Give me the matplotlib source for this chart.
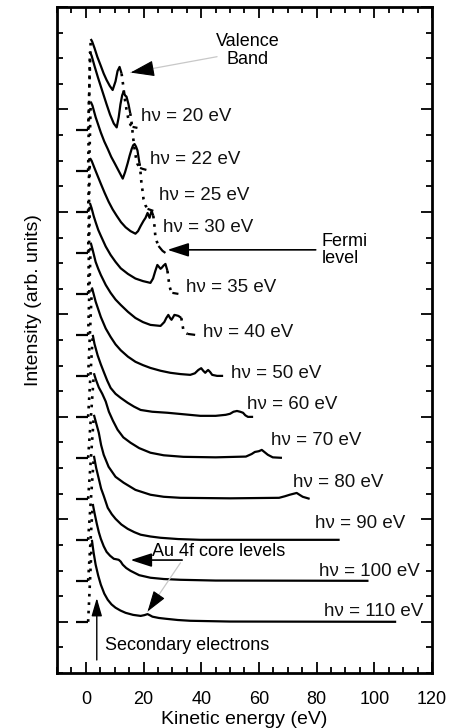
import matplotlib
matplotlib.use("Agg")
import matplotlib.pyplot as plt
from matplotlib.ticker import MultipleLocator

plt.rcParams['font.family'] = ['Liberation Sans', 'DejaVu Sans']

photon_energies = [20, 22, 25, 30, 35, 40, 50, 60, 70, 80, 90, 100, 110]
offsets = [21.2, 19.6, 18.0, 16.4, 14.8, 13.2, 11.6, 10.0, 8.4, 6.8, 5.2, 3.6, 2.0]

# kinetic energy (eV) and intensity above each spectrum's own offset
ke_20 = [-3.4, 0.8, 1.7, 2.2, 3.0, 4.0, 5.2, 6.2, 7.2, 8.3, 9.3, 10.3, 11.0, 11.7, 12.4,
         13.0, 13.4, 14.1, 14.8, 15.5, 16.2, 17.9]
in_20 = [0, 0, 3.55, 3.45, 3.2, 2.85, 2.5, 2.2, 1.95, 1.72, 1.56, 1.9, 2.3, 2.46, 2.2,
         1.7, 1.3, 0.8, 0.4, 0.2, 0.12, 0.08]
ke_22 = [-3.4, 0.8, 1.4, 2.0, 3.0, 4.2, 5.2, 6.2, 7.2, 8.4, 9.7, 10.7, 11.4, 12.0, 12.6,
         13.1, 13.6, 14.1, 14.8, 15.4, 15.9, 16.4, 16.9, 17.4, 17.9, 18.8, 19.7, 21.0]
in_22 = [0, 0, 4.65, 4.5, 4.1, 3.65, 3.3, 2.95, 2.6, 2.2, 1.85, 1.7, 2.1, 2.6, 2.95,
         3.1, 2.95, 2.9, 2.6, 2.25, 1.85, 1.3, 0.86, 0.5, 0.27, 0.12, 0.08, 0.04]
ke_25 = [-3.4, 0.8, 1.7, 2.3, 3.4, 4.3, 5.2, 6.4, 7.6, 8.8, 10.0, 11.4, 12.8, 13.6, 14.5,
         15.2, 15.9, 16.4, 16.9, 17.4, 17.9, 18.6, 19.0, 19.3, 19.7, 20.0, 20.7, 21.4, 23.4]
in_25 = [0, 0, 4.3, 4.15, 3.7, 3.4, 3.1, 2.75, 2.46, 2.15, 1.9, 1.6, 1.3, 1.55, 1.9,
         2.2, 2.46, 2.6, 2.65, 2.55, 2.4, 1.9, 1.5, 1.1, 0.8, 0.5, 0.25, 0.12, 0.04]
ke_30 = [-3.4, 0.8, 1.4, 2.0, 3.4, 4.3, 5.2, 6.5, 7.9, 9.3, 10.7, 12.2, 13.8, 15.5, 17.2,
         18.1, 19.0, 20.0, 20.7, 21.4, 22.1, 22.8, 23.4, 23.8, 24.1, 24.6, 25.2, 26.6, 27.6]
in_30 = [0, 0, 3.7, 3.6, 3.2, 2.95, 2.7, 2.35, 2.0, 1.7, 1.45, 1.2, 1.0, 0.85, 0.75,
         0.85, 1.05, 1.25, 1.37, 1.56, 1.37, 1.64, 1.45, 1.05, 0.66, 0.45, 0.27, 0.08, 0.0]
ke_35 = [-3.4, 0.8, 1.4, 2.0, 2.7, 3.4, 4.3, 5.2, 6.9, 8.6, 10.3, 12.1, 14.6, 17.2, 19.8,
         22.4, 23.3, 24.1, 24.8, 25.4, 25.9, 26.4, 26.9, 27.6, 28.3, 28.7, 29.0, 29.5,
         30.0, 32.1]
in_35 = [0, 0, 3.55, 3.35, 3.05, 2.8, 2.5, 2.27, 1.85, 1.52, 1.25, 1.0, 0.78, 0.6, 0.5,
         0.43, 0.6, 0.9, 1.13, 1.05, 0.98, 1.03, 1.1, 1.17, 0.9, 0.55, 0.3, 0.12,
         0.04, 0.0]
ke_40 = [-3.4, 0.8, 1.7, 2.3, 3.4, 4.3, 5.2, 6.9, 8.6, 10.3, 12.1, 14.6, 17.2, 19.8, 22.4,
         25.9, 27.2, 27.9, 28.6, 29.2, 29.7, 30.2, 30.7, 31.5, 32.1, 33.1, 33.5, 33.8,
         34.5, 35.2, 37.9]
in_40 = [0, 0, 3.6, 3.35, 2.85, 2.58, 2.34, 1.95, 1.64, 1.38, 1.17, 0.9, 0.66, 0.5, 0.39,
         0.35, 0.5, 0.66, 0.78, 0.66, 0.59, 0.68, 0.78, 0.76, 0.74, 0.66, 0.4, 0.2,
         0.08, 0.04, 0.0]
ke_50 = [-3.4, 0.8, 2.1, 2.7, 3.4, 4.3, 5.2, 6.9, 8.6, 10.3, 12.1, 14.6, 17.2, 19.8, 22.4,
         25.9, 29.3, 32.8, 36.2, 37.8, 39.0, 40.0, 40.7, 41.4, 41.9, 42.4, 43.1, 43.8,
         45.5, 47.6]
in_50 = [0, 0, 3.45, 3.2, 2.9, 2.6, 2.3, 1.85, 1.52, 1.23, 1.0, 0.75, 0.55, 0.42, 0.31,
         0.2, 0.12, 0.07, 0.04, 0.1, 0.23, 0.3, 0.2, 0.12, 0.18, 0.23, 0.15, 0.04,
         0.0, 0.0]
ke_60 = [-3.4, 0.8, 2.4, 3.0, 4.1, 5.2, 6.2, 7.4, 8.6, 10.3, 12.1, 14.5, 16.7, 19.0, 23.0,
         28.3, 34.0, 39.7, 45.0, 48.5, 50.0, 51.2, 52.4, 53.5, 54.5, 55.3, 56.2, 58.0]
in_60 = [0, 0, 3.2, 2.85, 2.4, 2.05, 1.76, 1.42, 1.13, 0.9, 0.74, 0.55, 0.4, 0.27, 0.2,
         0.16, 0.1, 0.04, 0.04, 0.08, 0.12, 0.2, 0.23, 0.2, 0.16, 0.06, 0.0, 0.0]
ke_70 = [-3.4, 0.8, 2.8, 3.5, 4.5, 5.7, 6.9, 8.0, 9.4, 11.0, 13.0, 15.5, 18.5, 22.4, 27.0,
         33.8, 45.0, 55.5, 57.5, 58.6, 60.0, 61.0, 62.0, 63.1, 64.8, 68.0]
in_70 = [0, 0, 3.3, 3.05, 2.75, 2.5, 2.2, 1.8, 1.45, 1.1, 0.8, 0.59, 0.38, 0.2, 0.1,
         0.04, 0.02, 0.05, 0.15, 0.23, 0.26, 0.31, 0.22, 0.12, 0.02, 0.0]
ke_80 = [-3.4, 0.8, 2.8, 3.6, 4.5, 5.3, 6.2, 7.9, 10.3, 13.1, 17.2, 22.4, 27.0, 32.8, 50.0,
         67.0, 69.0, 70.7, 73.1, 74.2, 75.2, 77.6]
in_80 = [0, 0, 3.28, 2.95, 2.58, 2.1, 1.72, 1.25, 0.86, 0.63, 0.35, 0.16, 0.08, 0.04, 0.02,
         0.04, 0.1, 0.16, 0.23, 0.15, 0.08, 0.0]
ke_90 = [-3.4, 0.8, 2.8, 3.6, 4.5, 5.3, 6.2, 7.6, 9.0, 10.3, 12.3, 14.5, 16.8, 19.0, 22.4,
         25.9, 32.0, 39.7, 88.0]
in_90 = [0, 0, 3.28, 2.8, 2.38, 2.0, 1.72, 1.25, 1.0, 0.82, 0.6, 0.43, 0.3, 0.2, 0.13,
         0.08, 0.03, 0.0, 0.0]
ke_100 = [-3.4, 0.8, 2.4, 3.1, 3.8, 4.5, 5.2, 6.2, 7.2, 8.4, 9.7, 10.6, 11.4, 12.1, 12.8,
          14.0, 15.5, 18.5, 22.4, 27.0, 32.8, 45.0, 98.0]
in_100 = [0, 0, 3.0, 2.6, 2.23, 1.9, 1.64, 1.35, 1.13, 0.98, 0.86, 0.84, 0.82, 0.75, 0.63,
          0.5, 0.39, 0.22, 0.12, 0.07, 0.04, 0.01, 0.0]
ke_110 = [-3.4, 0.8, 2.1, 2.7, 3.4, 4.3, 5.2, 6.4, 7.6, 8.9, 10.3, 12.0, 13.8, 16.4, 19.0,
          20.3, 21.4, 22.3, 23.1, 25.3, 27.6, 31.9, 36.2, 50.0, 107.6]
in_110 = [0, 0, 3.2, 2.7, 2.23, 1.8, 1.45, 1.1, 0.86, 0.68, 0.55, 0.44, 0.35, 0.27, 0.23,
          0.26, 0.3, 0.25, 0.2, 0.15, 0.12, 0.07, 0.04, 0.01, 0.0]

spectra_ke = [ke_20, ke_22, ke_25, ke_30, ke_35, ke_40, ke_50,
              ke_60, ke_70, ke_80, ke_90, ke_100, ke_110]
spectra_in = [in_20, in_22, in_25, in_30, in_35, in_40, in_50,
              in_60, in_70, in_80, in_90, in_100, in_110]

# steep Fermi-edge drops, where the recorded points are sparse (drawn dotted)
edge_ranges = [(12.4, 16.2), (15.4, 18.8), (18.6, 21.4), (23.4, 25.2), (28.3, 30.0),
               (33.1, 35.2), None, None, None, None, None, None, None]

# where each "hν = ... eV" label sits (data coordinates: left edge, vertical centre)
label_pos = [(19.0, 21.72), (22.4, 20.04), (25.2, 18.63), (26.9, 17.38),
             (34.8, 15.04), (40.7, 13.28), (50.3, 11.68), (55.9, 10.47),
             (64.1, 9.06), (71.7, 7.42), (79.3, 5.82), (81.0, 3.98), (82.4, 2.42)]

fig = plt.figure(figsize=(4.61, 7.28), dpi=100)
ax = fig.add_axes([0.1236, 0.0755, 0.8134, 0.9149])

LW = 1.6
DOTS = (0, (1, 2.2))


def draw_piece(xs, ys, dotted):
    if len(xs) < 2:
        return
    if dotted:
        ax.plot(xs, ys, color='black', lw=LW + 0.3, ls=DOTS)
    else:
        ax.plot(xs, ys, color='black', lw=LW, solid_joinstyle='round',
                solid_capstyle='butt')


for hv, off, ke, inten, edge, (lx, ly) in zip(photon_energies, offsets, spectra_ke,
                                              spectra_in, edge_ranges, label_pos):
    y = [off + v for v in inten]
    # flat region below the secondary cutoff
    draw_piece(ke[:2], y[:2], False)
    # steep secondary-electron cutoff
    draw_piece(ke[1:3], y[1:3], True)
    # rest of the spectrum, with the Fermi-edge drop dotted
    xs, ys = ke[2:], y[2:]
    if edge is None:
        draw_piece(xs, ys, False)
    else:
        lo, hi = edge
        i0 = xs.index(lo)
        i1 = xs.index(hi)
        draw_piece(xs[:i0 + 1], ys[:i0 + 1], False)
        draw_piece(xs[i0:i1 + 1], ys[i0:i1 + 1], True)
        draw_piece(xs[i1:], ys[i1:], False)
    ax.text(lx, ly, f'hν = {hv} eV', fontsize=13.5, va='center', ha='left',
            color='#111111')

ax.set_xlim(-10, 120)
ax.set_ylim(0, 26)
ax.xaxis.set_major_locator(MultipleLocator(20))
ax.xaxis.set_minor_locator(MultipleLocator(5))
ax.yaxis.set_major_locator(MultipleLocator(4, offset=2))
ax.yaxis.set_minor_locator(MultipleLocator(1))
ax.tick_params(which='both', direction='in', top=True, right=True, width=1.3)
ax.tick_params(which='major', length=8, labelsize=13, pad=13)
ax.tick_params(which='minor', length=4)
ax.set_yticklabels([])
for sp in ax.spines.values():
    sp.set_linewidth(2)

ax.set_xlabel('Kinetic energy (eV)', fontsize=14, labelpad=2)
fig.text(0.072, 0.588, 'Intensity (arb. units)', rotation=90, fontsize=14,
         ha='center', va='center')

head = '-|>,head_length=1.3,head_width=0.42'
grey = '#c8c8c8'
# valence band pointer: light line with a dark head
ax.text(56.0, 24.3, 'Valence\nBand', fontsize=13, ha='center', va='center',
        linespacing=1.1)
ax.annotate('', xy=(15.5, 23.44), xytext=(45.5, 24.06),
            arrowprops=dict(arrowstyle='-', color=grey, lw=0.9,
                            shrinkA=0, shrinkB=0))
ax.annotate('', xy=(15.5, 23.44), xytext=(22.4, 23.58),
            arrowprops=dict(arrowstyle='-|>,head_length=1.5,head_width=0.5',
                            color='black', lw=0.8, shrinkA=0, shrinkB=0))
# Fermi level pointer
ax.text(81.7, 16.52, 'Fermi\nlevel', fontsize=13, ha='left', va='center',
        linespacing=0.95)
ax.annotate('', xy=(28.3, 16.52), xytext=(79.7, 16.52),
            arrowprops=dict(arrowstyle=head, color='black', lw=1.2,
                            shrinkA=0, shrinkB=0))
# Au 4f core level pointers
ax.text(23.1, 4.73, 'Au 4f core levels', fontsize=13, ha='left', va='center')
ax.annotate('', xy=(15.5, 4.41), xytext=(33.4, 4.41),
            arrowprops=dict(arrowstyle=head, color='black', lw=1.2,
                            shrinkA=0, shrinkB=0))
ax.annotate('', xy=(21.4, 2.4), xytext=(32.8, 4.3),
            arrowprops=dict(arrowstyle='-', color=grey, lw=0.9,
                            shrinkA=0, shrinkB=0))
ax.annotate('', xy=(21.4, 2.4), xytext=(24.5, 2.91),
            arrowprops=dict(arrowstyle=head, color='black', lw=0.8,
                            shrinkA=0, shrinkB=0))
# secondary electron pointer
ax.annotate('', xy=(3.8, 2.93), xytext=(3.8, 0.51),
            arrowprops=dict(arrowstyle='-|>,head_length=1.1,head_width=0.32',
                            color='black', lw=1.0, shrinkA=0, shrinkB=0))
ax.text(6.55, 1.09, 'Secondary electrons', fontsize=13, ha='left', va='center')

fig.savefig('out.png', dpi=100)
